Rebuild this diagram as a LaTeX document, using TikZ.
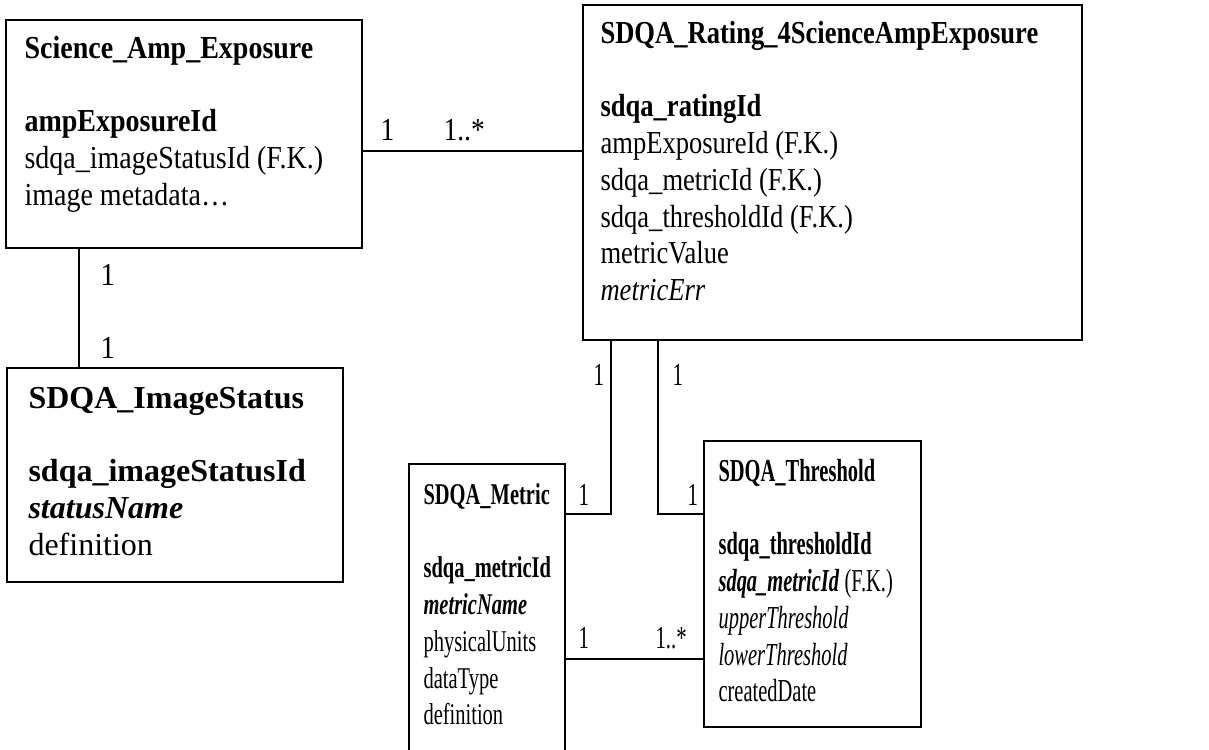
\documentclass[tikz,border=0pt]{standalone}
\usepackage{fontspec}
\setmainfont{Liberation Serif}
\usetikzlibrary{fit}
\tikzset{
  entity/.style={draw=black, line width=0.8pt, inner sep=0pt, fill=none},
  txt/.style={inner sep=0pt, anchor=base west, font=\fontsize{12pt}{13.8pt}\selectfont},
  mult/.style={inner sep=0pt, anchor=base west, font=\fontsize{12pt}{13.8pt}\selectfont},
  conn/.style={draw=black, line width=0.8pt}
}
\newcommand{\rows}[2]{\scalebox{#1}[1]{\begin{tabular}[t]{@{}l@{}}#2\end{tabular}}}
\newcommand{\mlab}[2]{\scalebox{#1}[1]{#2}}
\begin{document}
\begin{tikzpicture}[x=0.375pt, y=-0.375pt]
\useasboundingbox (0,0) rectangle (1209,749);
\clip (0,0) rectangle (1209,749);
\fill[white] (0,0) rectangle (1209,749);
% entity boxes
\node[entity, fit={(6,20) (362,248)}] (sae) {};
\node[entity, fit={(583,5) (1082,340)}] (rat) {};
\node[entity, fit={(7,368) (343,582)}] (ist) {};
\node[entity, fit={(409,464) (565,770)}] (met) {};
\node[entity, fit={(704,441) (921,727)}] (thr) {};
% texts
\node[txt] (saeT) at (24,58) {\rows{0.875}{\textbf{Science\_Amp\_Exposure}\\ \\ \textbf{ampExposureId}\\ sdqa\_imageStatusId (F.K.)\\ image metadata…}};
\node[txt] (ratT) at (600,43) {\rows{0.83}{\textbf{SDQA\_Rating\_4ScienceAmpExposure}\\ \\ \textbf{sdqa\_ratingId}\\ ampExposureId (F.K.)\\ sdqa\_metricId (F.K.)\\ sdqa\_thresholdId (F.K.)\\ metricValue\\ \textit{metricErr}}};
\node[txt] (istT) at (28,408) {\rows{1}{\textbf{SDQA\_ImageStatus}\\ \\ \textbf{sdqa\_imageStatusId}\\ \textbf{\textit{statusName}}\\ definition}};
\node[txt, font=\fontsize{11.3pt}{13.8pt}\selectfont] (metT) at (423,504) {\rows{0.68}{\textbf{SDQA\_Metric}\\ \\ \textbf{sdqa\_metricId}\\ \textbf{\textit{metricName}}\\ physicalUnits\\ dataType\\ definition}};
\node[txt] (thrT) at (718,481) {\rows{0.64}{\textbf{SDQA\_Threshold}\\ \\ \textbf{sdqa\_thresholdId}\\ \textbf{\textit{sdqa\_metricId}} (F.K.)\\ \textit{upperThreshold}\\ \textit{lowerThreshold}\\ createdDate}};
% connectors
\coordinate (ya) at (0,151);
\coordinate (xb) at (79,0);
\coordinate (xc) at (611,0);
\coordinate (xd) at (658,0);
\coordinate (ye) at (0,514);
\coordinate (yf) at (0,659);
\draw[conn] (sae.east |- ya) -- (rat.west |- ya);
\draw[conn] (sae.south -| xb) -- (ist.north -| xb);
\draw[conn] (rat.south -| xc) -- (xc |- ye) -- (met.east |- ye);
\draw[conn] (rat.south -| xd) -- (xd |- ye) -- (thr.west |- ye);
\draw[conn] (met.east |- yf) -- (thr.west |- yf);
% multiplicities
\node[mult] (m1) at (380,140) {\mlab{0.86}{1}};
\node[mult] (m2) at (443,140) {\mlab{0.86}{1..*}};
\node[mult] (m3) at (100,285) {\mlab{0.9}{1}};
\node[mult] (m4) at (100,358) {\mlab{0.9}{1}};
\node[mult] (m5) at (593,385) {\mlab{0.65}{1}};
\node[mult] (m6) at (578,505) {\mlab{0.65}{1}};
\node[mult] (m7) at (672,385) {\mlab{0.65}{1}};
\node[mult] (m8) at (687,505) {\mlab{0.65}{1}};
\node[mult] (m9) at (578,648) {\mlab{0.65}{1}};
\node[mult] (m10) at (655,648) {\mlab{0.65}{1..*}};
\end{tikzpicture}
\end{document}
